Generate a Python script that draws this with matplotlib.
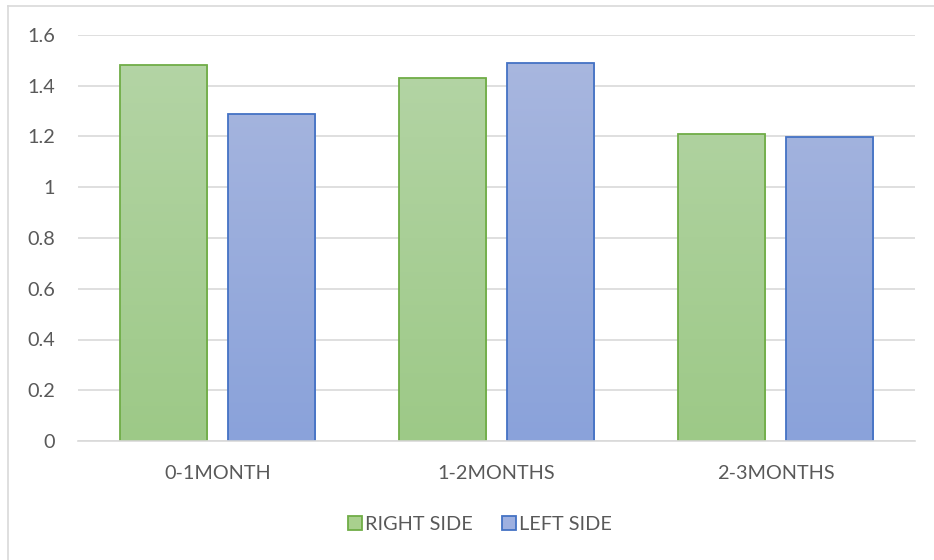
import numpy as np
import matplotlib
matplotlib.use("Agg")
import matplotlib.pyplot as plt
from matplotlib.patches import Rectangle
from matplotlib.lines import Line2D

categories = ["0-1MONTH", "1-2MONTHS", "2-3MONTHS"]
right_side = [1.48, 1.43, 1.21]
left_side = [1.29, 1.49, 1.20]
series_names = ["RIGHT SIDE", "LEFT SIDE"]

plt.rcParams['font.family'] = ['Lato', 'DejaVu Sans']
txt = '#595959'

fig = plt.figure(figsize=(9.34, 5.6), dpi=100)
ax = fig.add_axes([78 / 934, 1 - 441 / 560, (915 - 78) / 934, (441 - 35) / 560])

# chart frame (only left and top visible in the reference)
fig.add_artist(Line2D([7.5 / 934, 7.5 / 934], [0, 1 - 6 / 560], color='#d9d9d9', lw=1.2))
fig.add_artist(Line2D([7.5 / 934, 1], [1 - 6 / 560, 1 - 6 / 560], color='#d9d9d9', lw=1.2))

x = np.arange(len(categories))
w = 0.312
off = 0.192


def grad_bars(xs, vals, top, bottom, edge):
    bars = ax.bar(xs, vals, width=w, color='none', edgecolor=edge, linewidth=1.3, zorder=3)
    grad = np.linspace(0, 1, 256).reshape(-1, 1)
    cmap = matplotlib.colors.LinearSegmentedColormap.from_list('g', [bottom, top])
    for b in bars:
        bx, by = b.get_x(), b.get_y()
        bw, bh = b.get_width(), b.get_height()
        im = ax.imshow(grad, extent=[bx, bx + bw, 0, 1.6], origin='lower', cmap=cmap,
                       aspect='auto', zorder=2)
        im.set_clip_path(Rectangle((bx, by), bw, bh, transform=ax.transData))
    return bars


grad_bars(x - off, right_side, '#b5d5a7', '#9dc987', '#70ad47')
grad_bars(x + off, left_side, '#aab8df', '#8aa2da', '#4472c4')

ax.set_xlim(-0.5, 2.5)
ax.set_ylim(0, 1.6)
ax.set_yticks(np.arange(0, 1.61, 0.2))
ax.set_yticklabels(['0', '0.2', '0.4', '0.6', '0.8', '1', '1.2', '1.4', '1.6'])
ax.set_xticks(x)
ax.set_xticklabels(categories)
ax.grid(axis='y', color='#d9d9d9', lw=1.2, zorder=0)
ax.set_axisbelow(True)
for s in ['top', 'right', 'left']:
    ax.spines[s].set_visible(False)
ax.spines['bottom'].set_color('#d9d9d9')
ax.spines['bottom'].set_linewidth(1.2)
ax.spines['bottom'].set_zorder(4)
ax.tick_params(axis='both', length=0, labelsize=14.3, colors=txt)
ax.tick_params(axis='y', pad=16.5)
ax.tick_params(axis='x', pad=17)

handles = [Rectangle((0, 0), 1, 1, facecolor='#a9d08e', edgecolor='#70ad47', lw=1.3),
           Rectangle((0, 0), 1, 1, facecolor='#9eb0e0', edgecolor='#4472c4', lw=1.3)]
fig.legend(handles, series_names, loc='center', bbox_to_anchor=(480 / 934, 1 - 524 / 560),
           ncol=2, frameon=False, fontsize=14.3, labelcolor=txt, handlelength=0.7,
           handleheight=0.7, handletextpad=0.18, columnspacing=1.45)

fig.savefig('out.png', dpi=100)
